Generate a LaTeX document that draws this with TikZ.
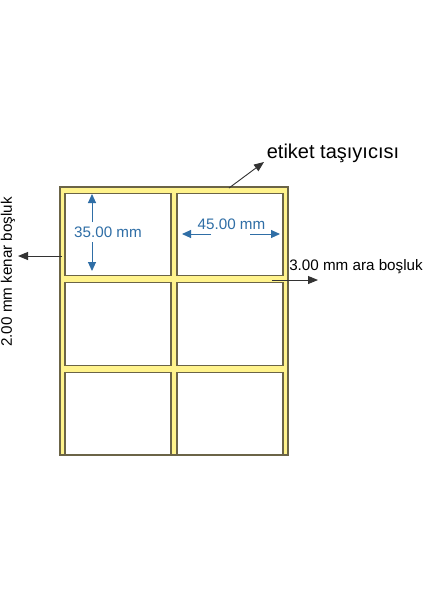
\documentclass[tikz,border=0pt]{standalone}
\usepackage{fontspec}
\setmainfont{Liberation Sans}
\usetikzlibrary{arrows.meta}
\definecolor{carrierfill}{HTML}{FFF38C}
\definecolor{edgecol}{HTML}{6B6447}
\definecolor{dimblue}{HTML}{2F6EA6}
\begin{document}
\begin{tikzpicture}[x=1pt,y=-1pt,
  carrier/.style={draw=edgecol,fill=carrierfill,line width=1.1pt,inner sep=0,outer sep=0,minimum width=228pt,minimum height=268pt},
  labelbox/.style={draw=edgecol,fill=white,line width=1.1pt,inner sep=0,outer sep=0,minimum width=106pt,minimum height=82.5pt},
  dimtext/.style={text=dimblue,font=\fontsize{15.2}{17}\selectfont,inner sep=1pt},
  notetext/.style={text=black,font=\fontsize{15.2}{17}\selectfont,inner sep=1pt},
  dimarrow/.style={draw=dimblue,line width=1pt,-{Triangle[length=9pt,width=8pt]}},
  notearrow/.style={draw=black!80,line width=0.9pt,-{Triangle[length=10pt,width=8pt]}}
]
\useasboundingbox (0,0) rectangle (424,600);
\fill[white] (0,0) rectangle (424,600);

\node[carrier] (carrier) at (174,321) {};
\node[labelbox] (l11) at (118,234.5) {};
\node[labelbox] (l12) at (230,234.5) {};
\node[labelbox] (l21) at (118,324) {};
\node[labelbox] (l22) at (230,324) {};
\node[labelbox] (l31) at (118,413.75) {};
\node[labelbox] (l32) at (230,413.75) {};

% 35.00 mm vertical dimension
\node[dimtext] (t35) at (108,232) {35.00 mm};
\coordinate (v1s) at (92,222);
\coordinate (v1e) at (92,194);
\coordinate (v2s) at (92,242);
\coordinate (v2e) at (92,271);
\draw[dimarrow] (v1s) -- (v1e);
\draw[dimarrow] (v2s) -- (v2e);

% 45.00 mm horizontal dimension
\node[dimtext] (t45) at (231.5,224) {45.00 mm};
\coordinate (h1s) at (211,234);
\coordinate (h1e) at (182,234);
\coordinate (h2s) at (250,234);
\coordinate (h2e) at (280,234);
\draw[dimarrow] (h1s) -- (h1e);
\draw[dimarrow] (h2s) -- (h2e);

% etiket taşıyıcısı
\node[notetext,font=\fontsize{20}{24}\selectfont] (tcar) at (333,153) {etiket taşıyıcısı};
\coordinate (c1s) at (229,188);
\coordinate (c1e) at (264,162);
\draw[notearrow] (c1s) -- (c1e);

% 3.00 mm ara boşluk
\node[notetext] (tgap) at (356,267) {3.00 mm ara boşluk};
\coordinate (g1s) at (272,280);
\coordinate (g1e) at (318,280);
\draw[notearrow] (g1s) -- (g1e);

% 2.00 mm kenar boşluk
\node[notetext,rotate=90] (tedge) at (8,272) {2.00 mm kenar boşluk};
\coordinate (e1s) at (62,256);
\coordinate (e1e) at (18,256);
\draw[notearrow] (e1s) -- (e1e);
\end{tikzpicture}
\end{document}
